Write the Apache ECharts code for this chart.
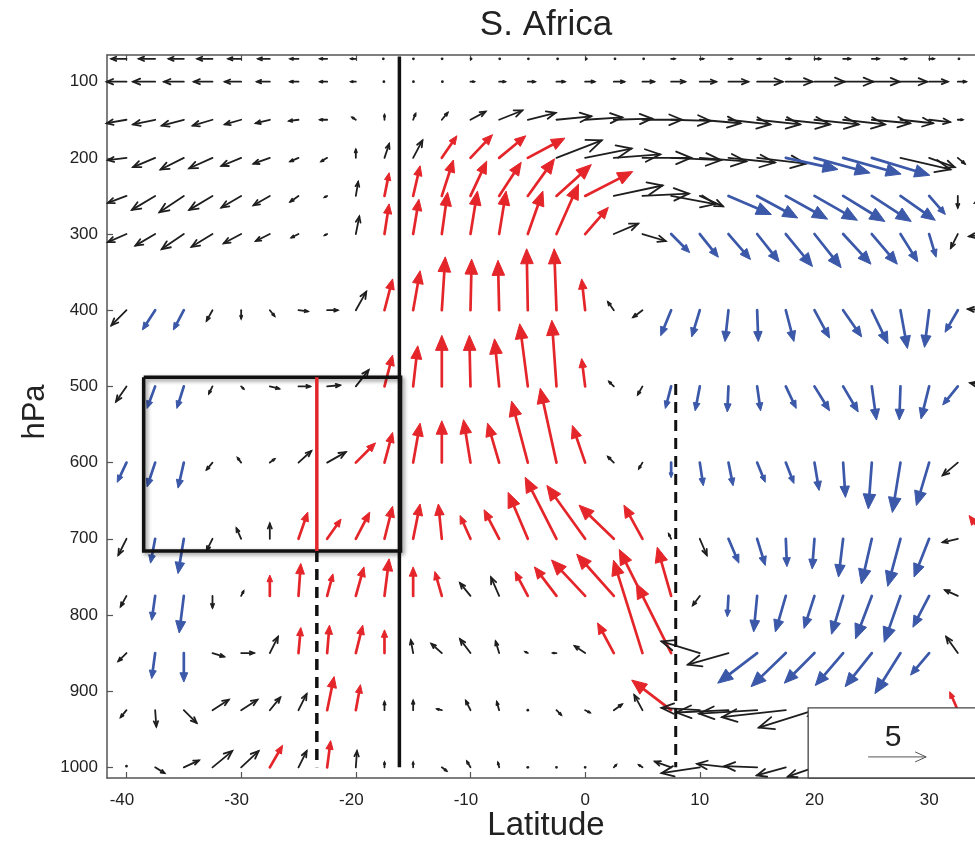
<!DOCTYPE html>
<html><head><meta charset="utf-8">
<script src="https://cdn.jsdelivr.net/npm/echarts@6/dist/echarts.min.js"></script>
<style>html,body{margin:0;padding:0;background:#fff}#c{width:975px;height:845px}</style>
</head><body><div id="c"></div>
<script>
// ---- grid of the wind field ----
const lats = [-40,-37.5,-35,-32.5,-30,-27.5,-25,-22.5,-20,-17.5,-15,-12.5,-10,-7.5,-5,-2.5,0,2.5,5,7.5,10,12.5,15,17.5,20,22.5,25,27.5,30,32.5,35];
const levels = [70,100,150,200,250,300,400,500,600,700,775,850,925,1000];
const xTicks = [-40,-30,-20,-10,0,10,20,30];
const yTicks = [100,200,300,400,500,600,700,800,900,1000];

// u: meridional component, w: vertical component (legend units, 5 = reference arrow)
// colour: k = black, r = red (ascent), b = blue (descent)
const u70  = [-1.3,-1.4,-1.3,-1.3,-1.1,-1.0,-0.7,-0.6,-0.4,-0.2, 0.05,0.05,0.1,0.1,0.1,0.2,0.2,0.2,0.2,0.3, 0.3,0.3,0.3,0.4,0.5,0.6,0.6,0.5,0.4,0.2,0];
const w70  = [0,0,0,0,0,0,0,0,0,0, 0,0,0,0,0,0,0,0,0,0, 0,0,0,0,0,0,0,0,0,0,0];
const c70  = 'kkkkkkkkkkkkkkkkkkkkkkkkkkkkkkk';
const u100 = [-1.7,-1.9,-1.7,-1.6,-1.4,-1.1,-0.7,-0.6,-0.4,-0.1, 0.05,0.1,0.3,0.5,0.6,0.7,0.8,0.9,1.0,1.2, 1.4,1.7,2.2,2.3,2.6,2.6,2.4,2.3,1.6,0.7,0];
const w100 = [0,0,0,0,0,0,0,0,0,0, 0,0,0,0,0,0,0,0,0,0, 0,0,0,0,0,0,0,0,0,0,0];
const c100 = 'kkkkkkkkkkkkkkkkkkkkkkkkkkkkkkk';
const u150 = [-1.7,-1.9,-1.9,-1.7,-1.4,-1.2,-0.8,-0.6,-0.3,0.0, 0.2,0.5,1.3,2.0,2.4,3.0,3.2,3.3,3.4,3.4, 3.5,3.6,3.7,3.8,3.8,3.6,3.3,2.8,1.8,0.4,0];
const w150 = [-0.3,-0.4,-0.5,-0.5,-0.4,-0.3,-0.1,0,0.2,0.4, 0.5,0.6,0.7,0.8,0.6,0.3,0.2,0.1,0,-0.1, -0.3,-0.4,-0.4,-0.4,-0.4,-0.4,-0.3,-0.3,-0.2,0,0];
const c150 = 'kkkkkkkkkkkkkkkkkkkkkkkkkkkkkkk';
const u200 = [-1.6,-1.9,-2.0,-2.0,-1.7,-1.4,-0.7,-0.5,0,0.4, 0.8,1.3,1.9,2.3,3.2,3.9,4.0,4.0,4.2,4.3, 4.0,4.0,4.2,4.5,4.8,5.0,5.0,4.3,2.2,0.6,0];
const w200 = [-0.2,-0.8,-1.0,-0.9,-0.7,-0.5,-0.3,-0.3,0.7,1.2, 1.5,1.9,2.0,1.9,1.7,1.5,0.8,0.3,0,-0.2, -0.3,-0.4,-0.5,-1.0,-1.3,-1.4,-1.5,-1.0,-0.8,-0.5,0];
const c200 = 'kkkkkkkkkkkrrrrkkkkkkkkbbbbkkkk';
const u250 = [-1.6,-2.0,-2.1,-2.0,-1.7,-1.4,-0.7,-0.2,0.2,0.4, 0.6,1.0,1.4,1.9,2.3,3.0,4.1,4.2,4.0,3.8, 2.0,3.7,3.5,3.6,3.7,3.6,3.4,3.0,1.4,0,-1.0];
const w250 = [-0.6,-1.2,-1.4,-1.2,-1.0,-0.8,-0.5,-0.1,1.2,2.0, 2.6,3.1,3.0,2.9,3.2,2.7,2.1,0.9,0.2,-0.7, -0.9,-1.6,-1.9,-2.0,-2.1,-2.2,-2.2,-2.1,-1.6,-1.0,-0.6];
const c250 = 'kkkkkkkkkrrrrrrrrkkkkbbbbbbbbkk';
const u300 = [-1.6,-1.7,-1.9,-1.8,-1.5,-1.2,-0.6,-0.2,0.3,0.4, 0.5,0.5,0.6,0.6,1.3,1.9,2.0,2.1,2.0,1.6, 1.6,1.9,1.9,2.3,2.3,2.4,2.2,1.5,0.6,-0.6,-1.5];
const w300 = [-0.7,-1.0,-1.3,-1.1,-0.8,-0.6,-0.3,-0.1,1.5,2.6, 3.0,3.6,3.7,3.7,3.7,4.3,2.3,0.9,-0.6,-1.6, -2.0,-2.2,-2.4,-2.8,-2.9,-2.6,-2.6,-2.4,-2.0,-1.2,-0.2];
const c300 = 'kkkkkkkkkrrrrrrrrkkbbbbbbbbbbkk';
const u400 = [-1.3,-1.1,-0.9,-0.5,0,0.4,0.8,0.9,0.9,0.7, 0.6,0.3,0.1,-0.1,-0.1,-0.2,-0.3,-0.5,-0.8,-0.9, -0.7,-0.3,0.1,0.7,1.3,1.6,1.4,0.6,-0.4,-1.1,-1.6];
const w400 = [-1.3,-1.7,-1.7,-0.9,-0.7,-0.5,-0.1,0,1.6,2.7, 3.4,4.6,4.4,4.3,5.3,5.3,2.7,0.7,-0.6,-2.2, -2.3,-2.7,-2.7,-2.7,-2.4,-2.3,-2.9,-3.3,-3.2,-1.9,0.1];
const c400 = 'kbbkkkkkkrrrrrrrrkkbbbbbbbbbbbk';
const u500 = [-0.9,-0.7,-0.6,-0.3,0.2,0.8,1.0,1.1,1.1,0.7, 0.4,0,-0.1,-0.4,-0.7,-0.4,-0.3,-0.4,-0.4,-0.5, -0.4,-0.1,0.3,0.9,1.3,1.3,0.4,-0.1,-0.7,-1.3,-1.4];
const w500 = [-1.3,-1.9,-1.9,-0.6,-0.2,-0.2,0,0.1,1.4,2.7, 3.5,4.4,4.4,4.1,5.4,5.7,2.4,0.4,-0.7,-1.9, -2.1,-2.2,-2.1,-1.9,-2.1,-2.2,-2.9,-2.9,-2.8,-1.6,0.3];
const c500 = 'kbbkkkkkkrrrrrrrrkkbbbbbbbbbbbk';
const u600 = [-0.8,-0.7,-0.5,-0.5,-0.3,0.4,1.1,1.6,1.7,0.7, 0.6,0,-0.6,-1.0,-1.4,-1.4,-1.1,-0.5,-0.3,0, 0.3,0.4,0.7,0.7,0.4,0.2,-0.3,-0.7,-1.1,-1.3,0.5];
const w600 = [-1.7,-2.1,-2.2,-0.6,0.4,0.3,1.0,0.9,1.7,2.6, 3.4,3.6,3.7,3.4,5.3,6.4,3.2,0.5,-0.5,-1.3, -2.0,-2.0,-1.7,-1.8,-2.4,-3.0,-4.0,-4.3,-3.7,-1.1,-0.4];
const c600 = 'bbbkkkkkrrrrrrrrrkkbbbbbbbbbbkk';
const u700 = [-0.7,-0.4,-0.5,-0.5,-0.4,0,0.8,1.2,1.2,0.7, 0.6,-0.3,-0.9,-1.3,-1.7,-2.7,-3.3,-3.0,-1.6,-0.2, 0.6,0.9,0.7,0.1,-0.2,-0.4,-0.9,-1.1,-1.3,-1.3,-1.5];
const w700 = [-1.4,-2.1,-3.0,-1.0,0.9,1.3,2.3,1.7,2.3,2.8, 3.0,3.0,2.0,2.5,4.0,5.3,4.6,2.9,2.9,0.4, -1.4,-2.1,-2.3,-2.4,-2.6,-3.3,-3.9,-4.1,-3.3,-0.3,2.0];
const c700 = 'kbbkkkrrrrrrrrrrrrrkkbbbbbbbbkr';
const u775 = [-0.5,-0.3,-0.4,0,0.2,0,0.2,0.5,0.7,0.4, 0,-0.6,-0.9,-0.7,-1.1,-1.9,-2.9,-3.2,-2.0,-1.2, -0.6,-0.1,-0.3,-0.9,-0.9,-1.0,-1.4,-1.4,-1.4,-1.1,-0.8];
const w775 = [-0.9,-2.1,-3.2,-1.0,0.4,1.8,2.8,1.9,2.5,3.2, 2.5,2.1,1.1,1.6,2.1,2.5,3.1,3.6,4.0,4.2, -0.8,-1.8,-3.1,-3.1,-2.8,-3.3,-3.7,-4.0,-2.7,0.5,2.0];
const c775 = 'kbbkkrrrrrrrkkrrrrrrkbbbbbbbbkr';
const u850 = [-0.7,-0.3,0,1.0,1.1,0.7,0.2,0.2,0.6,0, -0.2,-0.9,-0.9,-0.3,-0.2,-0.3,-0.9,-1.4,-2.5,-3.0, -3.3,-3.5,-3.4,-3.0,-2.6,-2.4,-2.3,-2.2,-1.6,-1.0,-0.6];
const w850 = [-0.7,-2.2,-2.5,-0.3,0,1.4,2.2,2.4,2.4,2.0, 1.1,0.8,1.2,1.0,0.1,0,0.6,2.6,8.0,6.0, 1.0,-1.0,-2.6,-2.9,-2.6,-2.8,-2.9,-3.5,-1.9,1.4,1.5];
const c850 = 'kbbkkkrrrrkkkkkkkrrrkkbbbbbbbkr';
const u925 = [-0.5,0.1,1.1,1.4,1.4,0.9,0.7,0.6,0.4,0, 0,-0.4,-0.4,-0.2,0,0.4,0.4,0.7,-0.7,-3.4, -3.3,-4.5,-5.0,-5.5,-4.8,-3,-3,-3,-3,-0.7,0];
const w925 = [-0.6,-1.4,-1.1,0.9,0.9,1.1,1.4,2.9,2.2,0.7, 0.8,0.1,0.8,0.7,0,-0.4,-0.2,0.5,1.3,2.6, 0.2,-0.2,-0.3,-0.6,-1.5,-0.5,-0.5,-0.5,-0.5,1.6,0];
const c925 = 'kkkkkkkrrkkkkkkkkkkrkkkkkkkkkrk';
const u1000 = [0,0.8,1.3,1.7,1.5,1.1,0.7,0.3,0.1,0, 0,0.4,-0.3,-0.1,0,0,0,0.2,-0.3,-1.4, -3.3,-2.7,-2.8,-2.5,-2.3,-2,-2,-2,-2,0,0];
const w1000 = [0.2,-0.5,0.6,1.4,1.4,1.9,1.4,2.3,1.4,0.4, 0.4,-0.3,0.5,0.4,0,0,0,0.2,0.2,0.5, -0.5,0.3,0.1,-0.7,-0.8,0,0,0,0,0,0];
const c1000 = 'kkkkkrkrkkkkkkkkkkkkkkkkkkkkkkk';

// annotation lines  [lat, hPa]
const solidLine   = [[-16.2, 67], [-16.2, 1000]];
const boxLine     = [[-38.5, 488], [-16.1, 488], [-16.1, 716], [-38.5, 716], [-38.5, 488]];
const redLine     = [[-23.4, 488], [-23.4, 716]];
const dashLeft    = [[-23.4, 716], [-23.4, 1000]];
const dashRight   = [[7.9, 497], [7.9, 1000]];
const keyCorner   = [19.45, 922];
const keyValue    = 5;

const U = [u70,u100,u150,u200,u250,u300,u400,u500,u600,u700,u775,u850,u925,u1000];
const W = [w70,w100,w150,w200,w250,w300,w400,w500,w600,w700,w775,w850,w925,w1000];
const C = [c70,c100,c150,c200,c250,c300,c400,c500,c600,c700,c775,c850,c925,c1000];
const COLORS = ['#1e1e1e', '#e4262b', '#3b58a9'];
const SCALE = 11.6; // px per unit (reference arrow 5 units)
const FONT = 'Liberation Sans, Arial, Helvetica, sans-serif';

const arrowData = [];
levels.forEach((p, i) => lats.forEach((lat, j) => {
  arrowData.push([lat, p, U[i][j], W[i][j], 'krb'.indexOf(C[i][j])]);
}));

function arrowParts(t, dx, dy, color, lw, filled) {
  const len = Math.hypot(dx, dy);
  const hx = t[0] + dx, hy = t[1] + dy;
  const ux = dx / len, uy = dy / len;
  const hl = Math.min(0.32 * len, 15);
  const hw = hl * 0.42;
  const bx = hx - ux * hl, by = hy - uy * hl;
  const p1 = [bx - uy * hw, by + ux * hw], p2 = [bx + uy * hw, by - ux * hw];
  if (filled) {
    const sx = hx - ux * hl * 0.7, sy = hy - uy * hl * 0.7;
    return [
      {type: 'line', shape: {x1: t[0], y1: t[1], x2: sx, y2: sy}, style: {stroke: color, lineWidth: lw, lineCap: 'round'}},
      {type: 'polygon', shape: {points: [p1, [hx, hy], p2]}, style: {fill: color, stroke: color, lineWidth: 1, lineJoin: 'round'}}
    ];
  }
  return [
    {type: 'line', shape: {x1: t[0], y1: t[1], x2: hx, y2: hy}, style: {stroke: color, lineWidth: lw, lineCap: 'round'}},
    {type: 'polyline', shape: {points: [p1, [hx, hy], p2]},
     style: {stroke: color, lineWidth: lw, fill: null, lineJoin: 'miter', lineCap: 'round'}}
  ];
}

function renderArrow(params, api) {
  const t = api.coord([api.value(0), api.value(1)]);
  const dx = api.value(2) * SCALE, dy = -api.value(3) * SCALE;
  const ci = api.value(4);
  const color = COLORS[ci];
  const len = Math.hypot(dx, dy);
  if (len < 2.5) {
    return {type: 'circle', shape: {cx: t[0] + dx / 2, cy: t[1] + dy / 2, r: 1.4}, style: {fill: color}};
  }
  return {type: 'group', children: arrowParts(t, dx, dy, color, ci === 0 ? 1.8 : 2.7, ci !== 0)};
}

function renderKey(params, api) {
  const p = api.coord([api.value(0), api.value(1)]);
  const cs = params.coordSys;
  const right = cs.x + cs.width + 20, bottom = cs.y + cs.height;
  const ax = p[0] + 60, ay = p[1] + 49;
  const len = keyValue * SCALE;
  return {type: 'group', children: [
    {type: 'rect', shape: {x: p[0], y: p[1], width: right - p[0], height: bottom - p[1]},
     style: {fill: '#fff', stroke: '#444', lineWidth: 1.3}},
    {type: 'text', style: {text: String(keyValue), x: p[0] + 85, y: p[1] + 30, textAlign: 'center', textVerticalAlign: 'middle',
      font: '30px ' + FONT, fill: '#222'}},
    {type: 'line', shape: {x1: ax, y1: ay, x2: ax + len, y2: ay}, style: {stroke: '#555', lineWidth: 1}},
    {type: 'polyline', shape: {points: [[ax + len - 11, ay - 5], [ax + len, ay], [ax + len - 11, ay + 5]]},
     style: {stroke: '#555', lineWidth: 1, fill: null}}
  ]};
}

const lineSeries = (data, color, width, type, extra) => Object.assign({
  type: 'line', data: data, symbol: 'none', silent: true, z: 4, animation: false,
  lineStyle: {color: color, width: width, type: type || 'solid', cap: 'butt'}
}, extra || {});

const axisLine = {show: true, onZero: false, lineStyle: {color: '#555', width: 1.5}};
const chart = echarts.init(document.getElementById('c'), null, {renderer: 'canvas'});
chart.setOption({
  animation: false,
  backgroundColor: '#fff',
  grid: {left: 107, right: 0, top: 55, bottom: 67, containLabel: false},
  xAxis: [
    {type: 'value', min: -41.7, max: 34, position: 'bottom', axisLine: axisLine,
     axisTick: {show: true, inside: true, length: 6, customValues: xTicks, lineStyle: {color: '#555', width: 1.2}},
     axisLabel: {customValues: xTicks, fontSize: 17, color: '#222', fontFamily: FONT, margin: 14,
       formatter: v => v < 0 ? '{n|' + v + '}' : String(v),
       rich: {n: {fontSize: 17, color: '#222', fontFamily: FONT, padding: [0, 9, 0, 0]}}},
     splitLine: {show: false}},
    {type: 'value', min: -41.7, max: 34, position: 'top', axisLine: axisLine,
     axisTick: {show: true, inside: true, length: 6, customValues: xTicks, lineStyle: {color: '#555', width: 1.2}},
     axisLabel: {show: false}, splitLine: {show: false}}
  ],
  yAxis: [
    {type: 'value', inverse: true, min: 65, max: 1014, position: 'left', axisLine: axisLine,
     axisTick: {show: true, inside: true, length: 6, customValues: yTicks, lineStyle: {color: '#555', width: 1.2}},
     axisLabel: {customValues: yTicks, fontSize: 17, color: '#222', fontFamily: FONT, margin: 9, formatter: v => String(v)},
     splitLine: {show: false}}
  ],
  graphic: [
    {type: 'text', x: 546, y: 25, style: {text: 'S. Africa', font: '35px ' + FONT, fill: '#222', align: 'center', verticalAlign: 'middle'}},
    {type: 'text', x: 546, y: 826, style: {text: 'Latitude', font: '33px ' + FONT, fill: '#222', align: 'center', verticalAlign: 'middle'}},
    {type: 'text', x: 35, y: 412, rotation: Math.PI / 2, style: {text: 'hPa', font: '31px ' + FONT, fill: '#222', align: 'center', verticalAlign: 'middle'}}
  ],
  series: [
    {type: 'custom', renderItem: renderArrow, data: arrowData, encode: {x: 0, y: 1}, clip: false, z: 2, silent: true},
    lineSeries(solidLine, '#111', 3.5),
    lineSeries(boxLine, '#111', 3.5, 'solid', {lineStyle: {color: '#111', width: 3.5, join: 'miter',
      shadowBlur: 4, shadowColor: 'rgba(0,0,0,0.45)', shadowOffsetX: 2, shadowOffsetY: 2}}),
    lineSeries(redLine, '#e4262b', 3.5),
    lineSeries(dashLeft, '#111', 3.5, [11, 7]),
    lineSeries(dashRight, '#111', 3, [11, 7]),
    {type: 'custom', renderItem: renderKey, data: [keyCorner], encode: {x: 0, y: 1}, clip: false, z: 6, silent: true}
  ]
});
</script>
</body></html>
